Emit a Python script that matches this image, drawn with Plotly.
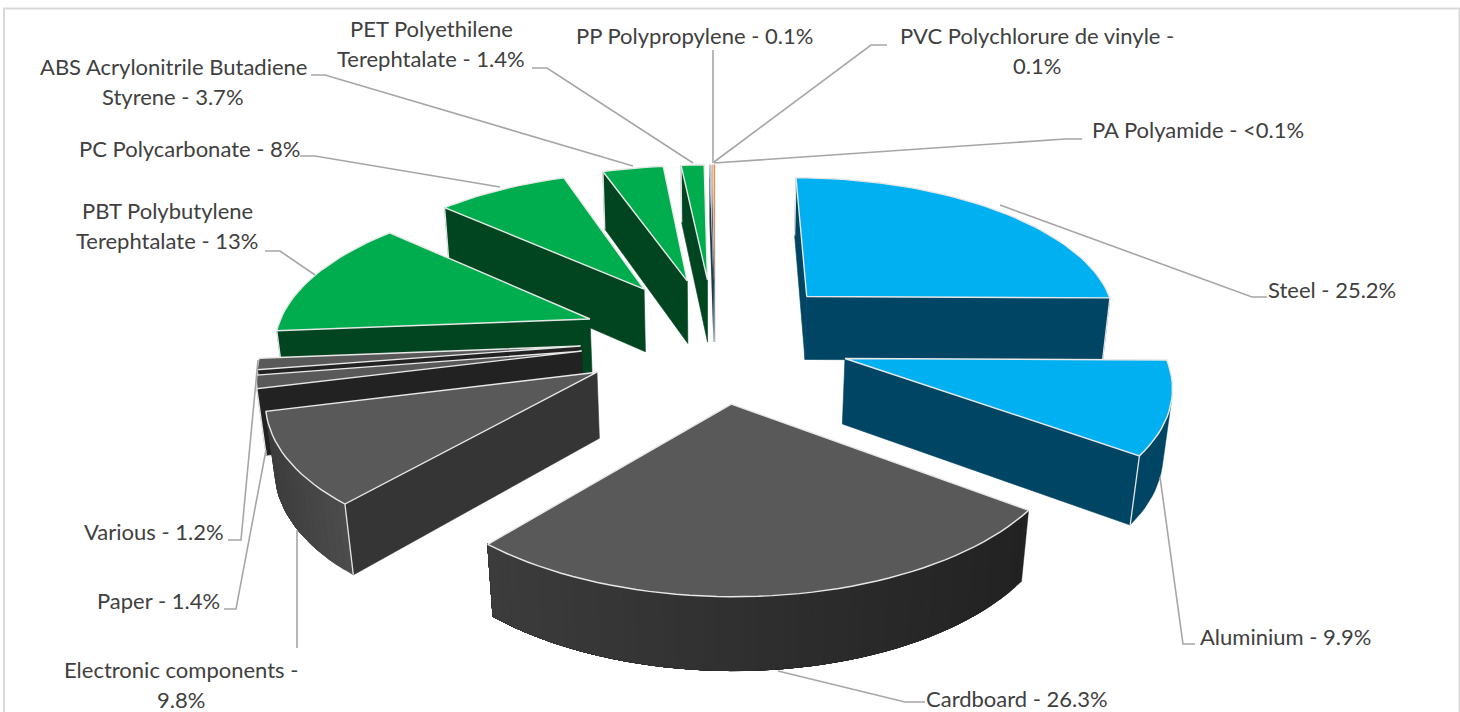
import math
import plotly.graph_objects as go

# ---- data ----
categories = ["Steel", "Aluminium", "Cardboard", "Electronic components", "Paper", "Various",
              "PBT Polybutylene Terephtalate", "PC Polycarbonate", "ABS Acrylonitrile Butadiene Styrene",
              "PET Polyethilene Terephtalate", "PP Polypropylene", "PVC Polychlorure de vinyle", "PA Polyamide"]
values = [25.2, 9.9, 26.3, 9.8, 1.4, 1.2, 13, 8, 3.7, 1.4, 0.1, 0.1, 0.05]
top_colors = ["#00B0F0", "#00B0F0", "#595959", "#595959", "#595959", "#595959",
              "#00AD4E", "#00AD4E", "#00AD4E", "#00AD4E", "#B4C7D6", "#F4B183", "#ED7D31"]
side_colors = ["#004563", "#004563", "#222222", "#353535", "#222222", "#222222",
               "#004520", "#004520", "#004520", "#004520", "#1F3A4D", "#1F3A4D", "#1F3A4D"]
arc_left = [None, None, "#474747", "#3C3C3C", None, None, None, None, None, None, None, None, None]
arc_right = [None, None, "#222222", "#4E4E4E", None, None, None, None, None, None, None, None, None]

label_lines = [["Steel - 25.2%"], ["Aluminium - 9.9%"], ["Cardboard - 26.3%"],
               ["Electronic components -", "9.8%"], ["Paper - 1.4%"], ["Various - 1.2%"],
               ["PBT Polybutylene", "Terephtalate - 13%"], ["PC Polycarbonate - 8%"],
               ["ABS Acrylonitrile Butadiene", "Styrene - 3.7%"],
               ["PET Polyethilene", "Terephtalate - 1.4%"], ["PP Polypropylene - 0.1%"],
               ["PVC Polychlorure de vinyle -", "0.1%"], ["PA Polyamide - <0.1%"]]
label_xy = [(1332, 289), (1285, 636), (1017, 698), (181, 669), (158, 600), (154, 531),
            (167, 210), (189, 148), (173, 66), (431, 28), (694, 35), (1037, 35), (1198, 129)]
leaders = [[(1267, 297), (1252, 297), (1000, 205)],
           [(1195, 644), (1183, 644), (1160, 477)],
           [(925, 702), (905, 702), (778, 671)],
           [(297, 648), (297, 530)],
           [(224, 609), (236, 609), (266, 450)],
           [(228, 540), (241, 540), (258, 360)],
           [(265, 251), (280, 251), (315, 275)],
           [(300, 156), (315, 156), (500, 187)],
           [(311, 75), (325, 75), (633, 166)],
           [(532, 68), (547, 68), (693, 163)],
           [(713, 50), (713, 163)],
           [(887, 45), (871, 45), (714, 162)],
           [(1082, 139), (1065, 139), (714, 163)]]

# ---- projection settings ----
CX, CY, A, B, P, Q, H, EXPLODE, RADIUS = 715, 338.5, 320, 148, 0.14, 0.02, 66, 0.42, 0.985


def project(u, v, low=False):
    s = 1 / (1 - P * v + (Q if low else 0))
    return CX + A * u * s, CY + (B * v + (H if low else 0)) * s


def hexmix(c1, c2, t):
    a = [int(c1[i:i + 2], 16) for i in (1, 3, 5)]
    b = [int(c2[i:i + 2], 16) for i in (1, 3, 5)]
    return "#%02x%02x%02x" % tuple(round(a[i] + (b[i] - a[i]) * t) for i in range(3))


total = sum(values)
fig = go.Figure()


def poly(pts, color, line=None, width=0.6, name=""):
    fig.add_trace(go.Scatter(
        x=[p[0] for p in pts] + [pts[0][0]], y=[p[1] for p in pts] + [pts[0][1]],
        mode="lines", fill="toself", fillcolor=color,
        line=dict(color=line or color, width=width), hoverinfo="skip", name=name, showlegend=False))


def shoelace(pts):
    return sum(pts[i][0] * pts[(i + 1) % len(pts)][1] - pts[(i + 1) % len(pts)][0] * pts[i][1]
               for i in range(len(pts)))


slices = []
cum = 0.0
for i, val in enumerate(values):
    a0 = cum / total * 2 * math.pi
    cum += val
    a1 = cum / total * 2 * math.pi
    mid = (a0 + a1) / 2
    slices.append((i, a0, a1, EXPLODE * math.sin(mid), -EXPLODE * math.cos(mid)))

for i, a0, a1, ou, ov in sorted(slices, key=lambda t: t[4]):
    n = max(2, int((a1 - a0) / math.radians(2)))
    ring = [(ou + RADIUS * math.sin(a0 + (a1 - a0) * k / n), ov - RADIUS * math.cos(a0 + (a1 - a0) * k / n))
            for k in range(n + 1)]
    outline = [(ou, ov)] + ring
    name = categories[i]
    thin = values[i] < 0.5
    # walls: traversal is clockwise seen from above, so a visible wall has negative area on screen
    start_wall = [project(*outline[0]), project(*ring[0]), project(*ring[0], True), project(*outline[0], True)]
    end_wall = [project(*ring[-1]), project(*outline[0]), project(*outline[0], True), project(*ring[-1], True)]
    for wall in (start_wall, end_wall):
        if shoelace(wall) < 0:
            poly(wall, side_colors[i], width=0.1 if thin else 0.6, name=name)
    # outer wall: every step paints to the far end, so no seams show between steps
    left, right = arc_left[i], arc_right[i]
    vis = [k for k in range(n)
           if shoelace([project(*ring[k]), project(*ring[k + 1]),
                        project(*ring[k + 1], True), project(*ring[k], True)]) < 0]
    if vis:
        last = vis[-1] + 1
        steps = vis if left else vis[:1]
        for k in steps:
            tops = [project(*ring[m]) for m in range(k, last + 1)]
            lows = [project(*ring[m], True) for m in range(last, k - 1, -1)]
            col = side_colors[i]
            if left:
                mx = project(*ring[k])[0]
                t = (mx - 260) / 770 if i == 2 else (mx - 265) / 90
                col = hexmix(left, right, min(1, max(0, t)))
            fig.add_trace(go.Scatter(
                x=[p[0] for p in tops + lows] + [tops[0][0]], y=[p[1] for p in tops + lows] + [tops[0][1]],
                mode="lines", fill="toself", fillcolor=col, line=dict(color=col, width=0.4),
                hoverinfo="skip", showlegend=False, name=name))
    # pale vertical corners on the outer ends of visible radial walls
    if not thin:
        for wall, pt in ((start_wall, ring[0]), (end_wall, ring[-1])):
            if shoelace(wall) < 0:
                a, b = project(*pt), project(*pt, True)
                fig.add_trace(go.Scatter(x=[a[0], b[0]], y=[a[1], b[1]], mode="lines",
                                         line=dict(color="#E4E4E4", width=1.3), hoverinfo="skip",
                                         showlegend=False))
    poly([project(*p) for p in outline], top_colors[i], line=None if thin else "#E8E8E8",
         width=0.1 if thin else 1.4, name=name)

for path in leaders:
    fig.add_trace(go.Scatter(x=[p[0] for p in path], y=[p[1] for p in path], mode="lines",
                             line=dict(color="#A6A6A6", width=1.6), hoverinfo="skip", showlegend=False))

for lines, (x, y) in zip(label_lines, label_xy):
    for j, text in enumerate(lines):
        fig.add_annotation(x=x, y=y + 30 * j, text=text.replace("<", "&lt;"), showarrow=False, xanchor="center",
                           yanchor="middle", font=dict(family="Lato", size=22, color="#404040"))

fig.update_layout(
    width=1460, height=712, margin=dict(l=0, r=0, t=0, b=0), paper_bgcolor="white", plot_bgcolor="white",
    showlegend=False,
    xaxis=dict(range=[0, 1460], visible=False, fixedrange=True),
    yaxis=dict(range=[712, 0], visible=False, fixedrange=True),
    shapes=[dict(type="rect", xref="x", yref="y", x0=4, y0=8.5, x1=1459.5, y1=730,
                 line=dict(color="#D9D9D9", width=2), layer="below")],
)
fig.write_html("out.html", config={"displayModeBar": False},
               post_script="document.body.style.margin='0';document.body.style.overflow='hidden';")
